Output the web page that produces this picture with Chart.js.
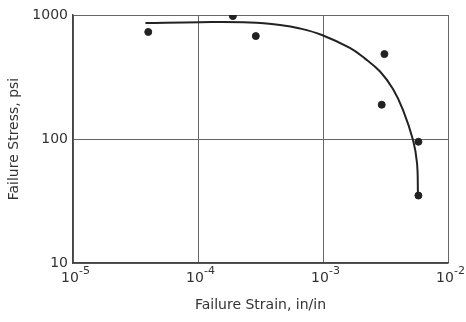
<!DOCTYPE html>
<html>
<head>
<meta charset="utf-8">
<script src="https://cdn.jsdelivr.net/npm/chart.js@4/dist/chart.umd.min.js"></script>
<style>
  html, body { margin: 0; padding: 0; background: #fff; }
  #wrap { width: 466px; height: 322px; }
</style>
</head>
<body>
<div id="wrap"><canvas id="chart"></canvas></div>
<script>
// measured points (strain in/in, stress psi)
const strainPoints = [4.0e-5, 1.9e-4, 2.9e-4, 3.1e-3, 2.95e-3, 5.8e-3, 5.8e-3];
const stressPoints = [730, 980, 676, 484, 189, 95, 35];

// fitted curve
const curveStrain = [3.8e-5, 1.04e-4, 2.6e-4, 4.53e-4, 6.55e-4, 9.8e-4, 1.64e-3, 2.17e-3, 2.86e-3, 3.63e-3, 4.37e-3, 5.25e-3, 5.65e-3, 5.75e-3];
const curveStress = [862, 875, 870, 830, 778, 690, 542, 445, 350, 253, 171, 98, 64, 36];

const xTicks = [1e-5, 1e-4, 1e-3, 1e-2];
const xTickExp = ['-5', '-4', '-3', '-2'];
const yTicks = [10, 100, 1000];

const textColor = '#333';
const fontFamily = '"DejaVu Sans", sans-serif';

// draws 10 with a raised exponent under each x tick
const expLabels = {
  id: 'expLabels',
  afterDraw(chart) {
    const ctx = chart.ctx;
    const xs = chart.scales.x;
    const y = chart.chartArea.bottom + 15;
    ctx.save();
    ctx.fillStyle = textColor;
    ctx.textBaseline = 'middle';
    xTicks.forEach((v, i) => {
      const px = xs.getPixelForValue(v);
      ctx.font = '14px ' + fontFamily;
      const w = ctx.measureText('10').width;
      ctx.textAlign = 'left';
      ctx.fillText('10', px - w / 2 - 3, y);
      ctx.font = '11px ' + fontFamily;
      ctx.fillText(xTickExp[i], px + w / 2 - 3, y - 7);
    });
    ctx.restore();
  }
};

new Chart(document.getElementById('chart'), {
  type: 'scatter',
  data: {
    datasets: [
      {
        label: 'data',
        data: strainPoints.map((x, i) => ({ x: x, y: stressPoints[i] })),
        backgroundColor: '#222',
        borderColor: '#222',
        pointRadius: 3.5,
        showLine: false
      },
      {
        label: 'fit',
        data: curveStrain.map((x, i) => ({ x: x, y: curveStress[i] })),
        borderColor: '#222',
        borderWidth: 2,
        pointRadius: 0,
        showLine: true,
        tension: 0.4
      }
    ]
  },
  options: {
    responsive: true,
    maintainAspectRatio: false,
    animation: false,
    layout: { padding: { top: 15, right: 18, left: 6, bottom: 0 } },
    plugins: {
      legend: { display: false },
      tooltip: { enabled: false }
    },
    scales: {
      x: {
        type: 'logarithmic',
        min: 1e-5,
        max: 1e-2,
        afterBuildTicks: (s) => { s.ticks = xTicks.map(v => ({ value: v })); },
        afterFit: (s) => { s.height = 59; },
        ticks: { display: false },
        grid: { color: '#666', lineWidth: 1, drawTicks: false },
        border: { color: '#444', width: 1.5 },
        title: {
          display: true,
          text: 'Failure Strain, in/in',
          color: textColor,
          font: { size: 14, family: fontFamily },
          padding: { top: 4, bottom: 8 }
        }
      },
      y: {
        type: 'logarithmic',
        min: 10,
        max: 1000,
        afterBuildTicks: (s) => { s.ticks = yTicks.map(v => ({ value: v })); },
        afterFit: (s) => { s.width = 67; },
        ticks: {
          color: textColor,
          font: { size: 14, family: fontFamily },
          padding: 5,
          callback: (v) => String(v)
        },
        grid: { color: '#666', lineWidth: 1, drawTicks: false },
        border: { color: '#444', width: 1.5 },
        title: {
          display: true,
          text: 'Failure Stress, psi',
          color: textColor,
          font: { size: 14, family: fontFamily },
          padding: { top: 0, bottom: 4 }
        }
      }
    }
  },
  plugins: [expLabels]
});
</script>
</body>
</html>
